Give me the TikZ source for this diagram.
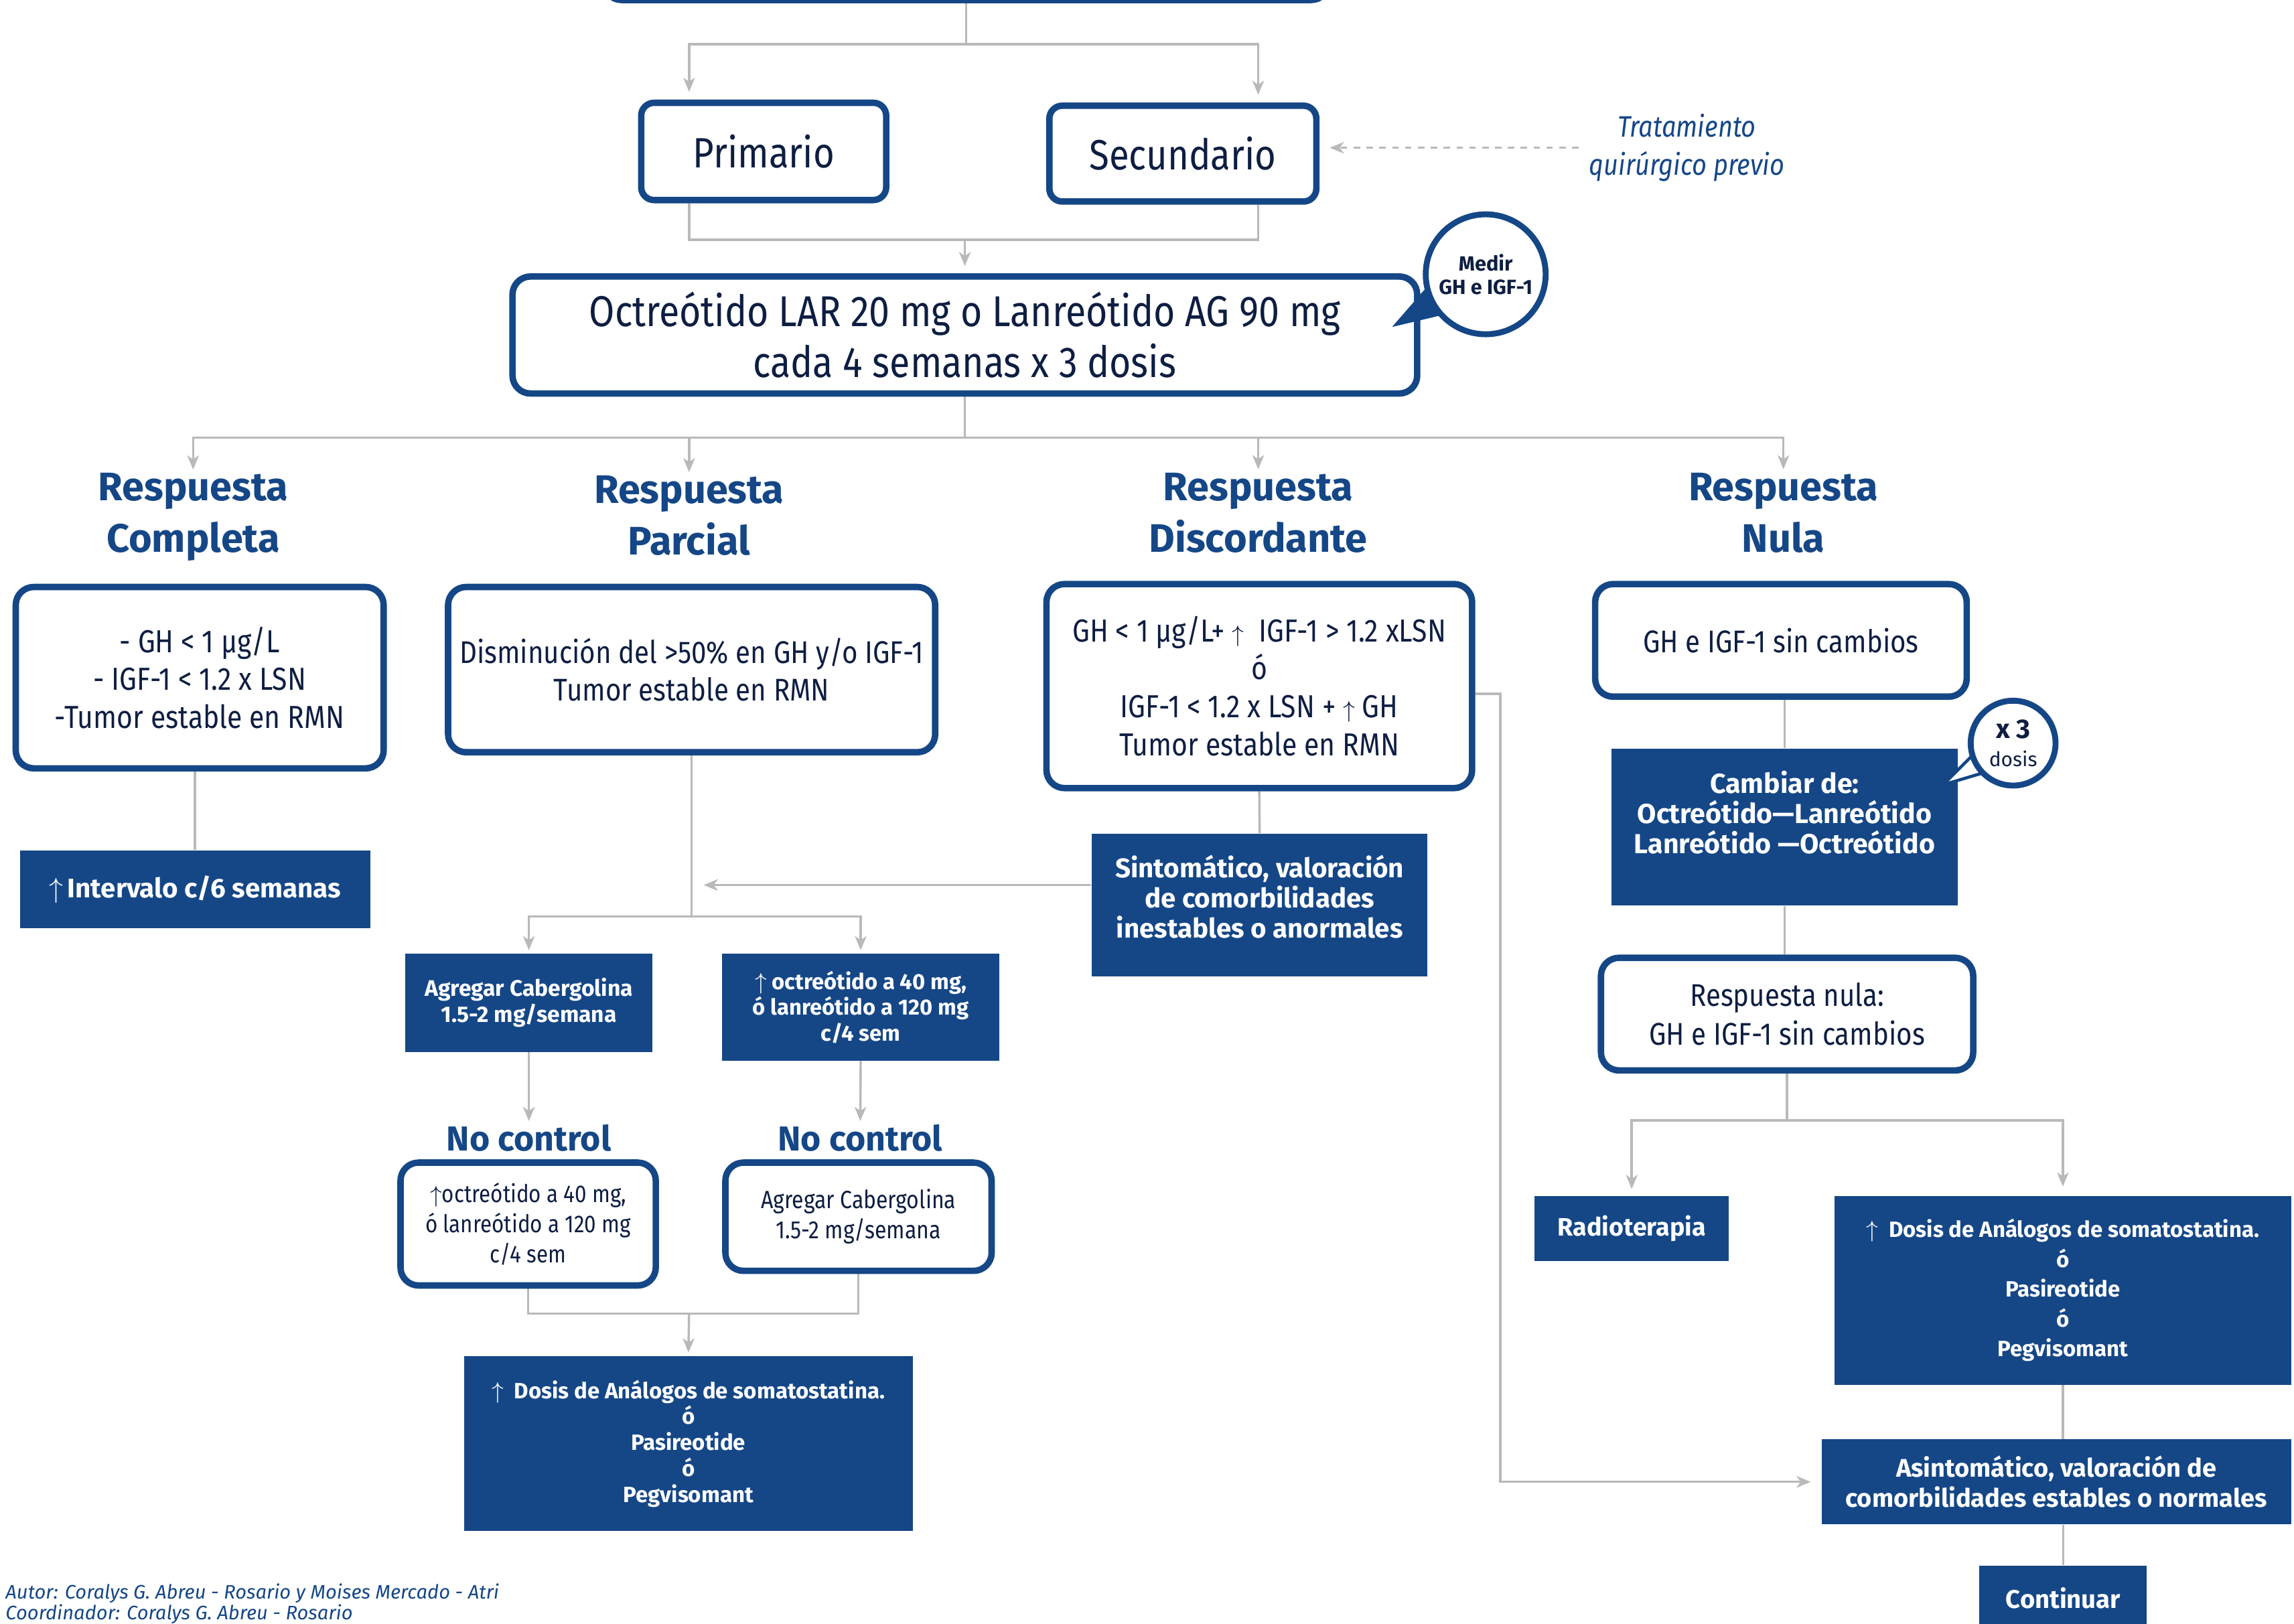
\documentclass[tikz,border=0pt]{standalone}
\usepackage{fontspec}
\setmainfont{Fira Sans}
\newfontfamily\estrecha[FakeStretch=0.86]{Fira Sans}
\usetikzlibrary{arrows.meta,backgrounds}

\newcommand{\upar}{$\uparrow$}

\begin{document}
\begin{tikzpicture}[x=0.02cm,y=-0.02cm,
    linea/.style={draw=acro_gris,line width=0.9pt},
    flecha/.style={linea,-{Stealth[length=5.5pt,width=4.5pt,inset=1.6pt]},shorten >=1.2pt},
    cajaborde/.style={shape=rectangle,draw=acro_azul,line width=2.5pt,rounded corners=7pt,fill=white,text=acro_texto,align=center},
    cajallena/.style={shape=rectangle,fill=acro_azul,text=white,align=center},
    titulo/.style={text=acro_azul,align=center,inner sep=0pt,font=\bfseries\fontsize{15.5}{20}\selectfont},
    globo/.style={shape=circle,draw=acro_azul,line width=2.3pt,fill=white,text=acro_texto,align=center,inner sep=0pt},
    nota/.style={text=acro_azul,align=center,inner sep=0pt}]
    \definecolor{acro_azul}{RGB}{21,71,135}
    \definecolor{acro_texto}{RGB}{14,30,66}
    \definecolor{acro_gris}{RGB}{185,185,185}
    \useasboundingbox (0,0) rectangle (1568,1110);

    % columnas de las flechas superiores
    \coordinate (colB) at (471,0);
    \coordinate (colC) at (860,0);

    % parte superior
    \node[cajaborde,minimum width=9.92cm,minimum height=1.6cm] (inicio) at (660.5,-40) {};
    \node[cajaborde,minimum width=3.35cm,minimum height=1.33cm,rounded corners=5pt,font=\estrecha\fontsize{16.5}{20}\selectfont] (primario) at (522,103.5) {Primario};
    \node[cajaborde,minimum width=3.65cm,minimum height=1.31cm,rounded corners=5pt,font=\estrecha\fontsize{16.5}{20}\selectfont] (secundario) at (808.5,105) {Secundario};
    \node[nota,font=\estrecha\itshape\fontsize{11.5}{14.8}\selectfont] (tratamiento) at (1153,101) {Tratamiento\\quirúrgico previo};
    \node[cajaborde,minimum width=12.37cm,minimum height=1.6cm,font=\estrecha\fontsize{16.8}{19.9}\selectfont] (octreotido) at (659.5,229) {Octreótido LAR 20 mg o Lanreótido AG 90 mg\\cada 4 semanas x 3 dosis};

    % globo medir
    \coordinate (medirA) at (978,193);
    \coordinate (medirB) at (990.3,214.3);
    \coordinate (medirpunta) at (951.5,223.5);
    \fill[acro_azul] (medirA) -- (medirpunta) -- (medirB) -- cycle;
    \node[globo,minimum size=1.64cm,font=\bfseries\fontsize{8}{9.1}\selectfont] (medir) at (1015.5,187.5) {Medir\\GH e IGF-1};

    % titulos de respuesta
    \node[titulo] (completa) at (132,353.5) {Respuesta\\Completa};
    \node[titulo] (parcial) at (471,352.5) {Respuesta\\Parcial};
    \node[titulo] (discordante) at (860,350.5) {Respuesta\\Discordante};
    \node[titulo] (nula) at (1219,350.5) {Respuesta\\Nula};

    % criterios
    \node[cajaborde,minimum width=5.03cm,minimum height=2.48cm,font=\estrecha\fontsize{12.4}{14.8}\selectfont] (completa_caja) at (136.5,463.25) {- GH < 1 µg/L\\- IGF-1 < 1.2 x LSN\\-Tumor estable en RMN};
    \node[cajaborde,minimum width=6.66cm,minimum height=2.26cm,font=\estrecha\fontsize{12.2}{14.8}\selectfont] (parcial_caja) at (472.75,457.75) {Disminución del >50\% en GH y/o IGF-1\\Tumor estable en RMN};
    \node[cajaborde,minimum width=5.82cm,minimum height=2.79cm,font=\estrecha\fontsize{12.4}{14.8}\selectfont] (discordante_caja) at (860.75,469) {GH < 1 µg/L+ {\small\upar}\ \ IGF-1 > 1.2 xLSN\\ó\\IGF-1 < 1.2 x LSN + {\small\upar} GH\\Tumor estable en RMN};
    \node[cajaborde,minimum width=5.08cm,minimum height=1.54cm,font=\estrecha\fontsize{12.2}{14.8}\selectfont] (nula_caja) at (1217.3,437.75) {GH e IGF-1 sin cambios};

    % respuesta completa
    \node[cajallena,minimum width=4.79cm,minimum height=1.06cm,font=\bfseries\fontsize{10.5}{12}\selectfont] (intervalo) at (133.25,608) {\upar\,Intervalo c/6 semanas};

    % respuesta parcial
    \node[cajallena,minimum width=3.38cm,minimum height=1.34cm,font=\bfseries\fontsize{8.75}{10.1}\selectfont] (cabergolinaA) at (361.5,685.5) {Agregar Cabergolina\\1.5-2 mg/semana};
    \node[cajallena,minimum width=3.79cm,minimum height=1.46cm,font=\bfseries\fontsize{8.55}{10}\selectfont] (octreoA) at (588.3,688.5) {\upar\ octreótido a 40 mg,\\ó lanreótido a 120 mg\\c/4 sem};
    \node[titulo,font=\bfseries\fontsize{13.5}{16}\selectfont] (nocontrolA) at (361.5,778) {No control};
    \node[titulo,font=\bfseries\fontsize{13.5}{16}\selectfont] (nocontrolB) at (588,778) {No control};
    \node[cajaborde,minimum width=3.49cm,minimum height=1.68cm,font=\estrecha\fontsize{9.5}{11.7}\selectfont] (noA) at (361,836.75) {\upar octreótido a 40 mg,\\ó lanreótido a 120 mg\\c/4 sem};
    \node[cajaborde,minimum width=3.64cm,minimum height=1.48cm,font=\estrecha\fontsize{9.7}{11.7}\selectfont] (noB) at (586.8,831.75) {Agregar Cabergolina\\1.5-2 mg/semana};
    \node[cajallena,minimum width=6.14cm,minimum height=2.39cm,font=\bfseries\fontsize{8.6}{10.1}\selectfont] (dosisA) at (470.5,986.75) {\upar\ \ Dosis de Análogos de somatostatina.\\ó\\Pasireotide\\ó\\Pegvisomant};

    % respuesta discordante
    \node[cajallena,minimum width=4.59cm,minimum height=1.95cm,font=\bfseries\fontsize{10.5}{11.7}\selectfont] (sintomatico) at (861,618.65) {Sintomático, valoración\\de comorbilidades\\inestables o anormales\\[-5pt]\mbox{}};

    % respuesta nula
    \node[cajallena,minimum width=4.73cm,minimum height=2.14cm,font=\bfseries\fontsize{10.7}{11.7}\selectfont] (cambiar) at (1219.8,565.4) {Cambiar de:\\Octreótido—Lanreótido\\Lanreótido —Octreótido\\\mbox{}};
    \coordinate (xtresA) at (1350.7,513.9);
    \coordinate (xtresB) at (1358.7,527.4);
    \coordinate (xtrespunta) at (1328,536.5);
    \filldraw[fill=white,draw=acro_azul,line width=1.2pt,line join=miter] (xtresA) -- (xtrespunta) -- (xtresB);
    \node[globo,minimum size=1.16cm] (xtres) at (1376,508) {{\bfseries\fontsize{10.5}{10}\selectfont x 3}\\[-1pt]{\fontsize{7.8}{8}\selectfont dosis}};
    \node[cajaborde,minimum width=5.09cm,minimum height=1.54cm,font=\estrecha\fontsize{12.2}{15}\selectfont] (nula2) at (1221.5,693.25) {Respuesta nula:\\GH e IGF-1 sin cambios};
    \node[cajallena,minimum width=2.66cm,minimum height=0.89cm,font=\bfseries\fontsize{9.8}{12}\selectfont] (radioterapia) at (1115.3,839.75) {Radioterapia};
    \node[cajallena,minimum width=6.24cm,minimum height=2.58cm,font=\bfseries\fontsize{8.6}{11.6}\selectfont] (dosisB) at (1410,882.1) {\upar\ \ Dosis de Análogos de somatostatina.\\ó\\Pasireotide\\ó\\Pegvisomant};
    \node[cajallena,minimum width=6.42cm,minimum height=1.16cm,font=\bfseries\fontsize{9.9}{11.7}\selectfont] (asintomatico) at (1405.5,1013) {Asintomático, valoración de\\comorbilidades estables o normales};
    \node[cajallena,minimum width=2.29cm,minimum height=0.88cm,font=\bfseries\fontsize{9.95}{12}\selectfont] (continuar) at (1410.25,1092.3) {Continuar};

    % pie
    \node[nota,anchor=base west,font=\itshape\fontsize{7.6}{9}\selectfont] (autor) at (3.5,1093) {Autor: Coralys G. Abreu - Rosario y Moises Mercado - Atri};
    \node[nota,anchor=base west,font=\itshape\fontsize{7.6}{9}\selectfont] (coordinador) at (3.5,1107) {Coordinador: Coralys G. Abreu - Rosario};

    % conectores
    \begin{scope}[on background layer]
    \draw[flecha,shorten >=3pt] (inicio.south) -- ++(0,28) -| (colB |- primario.north);
    \draw[flecha,shorten >=3pt] (inicio.south) -- ++(0,28) -| (colC |- secundario.north);
    \draw[linea] (colB |- primario.south) -- ++(0,25) coordinate (unionA) -| (colC |- secundario.south);
    \draw[flecha,shorten >=2.8pt] (unionA -| octreotido.north) -- (octreotido.north);
    \draw[flecha,dash pattern=on 2.5pt off 2.5pt,shorten >=4pt] ([xshift=-4pt]tratamiento.west) -- (tratamiento.west -| secundario.east);
    \draw[linea] (octreotido.south) -- ++(0,28) coordinate (ramas);
    \foreach \r in {completa,parcial,discordante,nula}
        \draw[flecha] (ramas) -| (\r.north);
    \draw[linea] (completa_caja.south -| intervalo.north) -- (intervalo.north);
    \draw[linea] (parcial_caja.south) -- ++(0,110) coordinate (unionB);
    \draw[flecha] (unionB) -| (cabergolinaA.north);
    \draw[flecha] (unionB) -| (octreoA.north);
    \coordinate (sintpunta) at (481,605);
    \draw[flecha,shorten >=0pt] (sintomatico.west |- sintpunta) -- (sintpunta);
    \draw[flecha] (cabergolinaA.south) -- (nocontrolA.north);
    \draw[flecha] (octreoA.south) -- (nocontrolB.north);
    \coordinate (unionC) at (471,898);
    \draw[linea] (noA.south) |- (unionC) -| (noB.south);
    \draw[flecha] (unionC) -- (dosisA.north);
    \draw[linea] (discordante_caja.south) -- (sintomatico.north);
    \draw[flecha,shorten >=4pt] ([yshift=-3pt]discordante_caja.east) -- ++(17,0) |- (asintomatico.west);
    \draw[linea] (cambiar.north |- nula_caja.south) -- (cambiar.north);
    \draw[linea] (cambiar.south) -- (cambiar.south |- nula2.north);
    \draw[linea] (nula2.south) -- ++(0,32) coordinate (unionD);
    \draw[flecha,shorten >=2.5pt] (unionD) -| (radioterapia.north);
    \draw[flecha,shorten >=3.5pt] (unionD) -| (dosisB.north);
    \draw[linea] (dosisB.south) -- (dosisB.south |- asintomatico.north);
    \draw[linea] (continuar.north |- asintomatico.south) -- (continuar.north);
    \end{scope}
\end{tikzpicture}
\end{document}
